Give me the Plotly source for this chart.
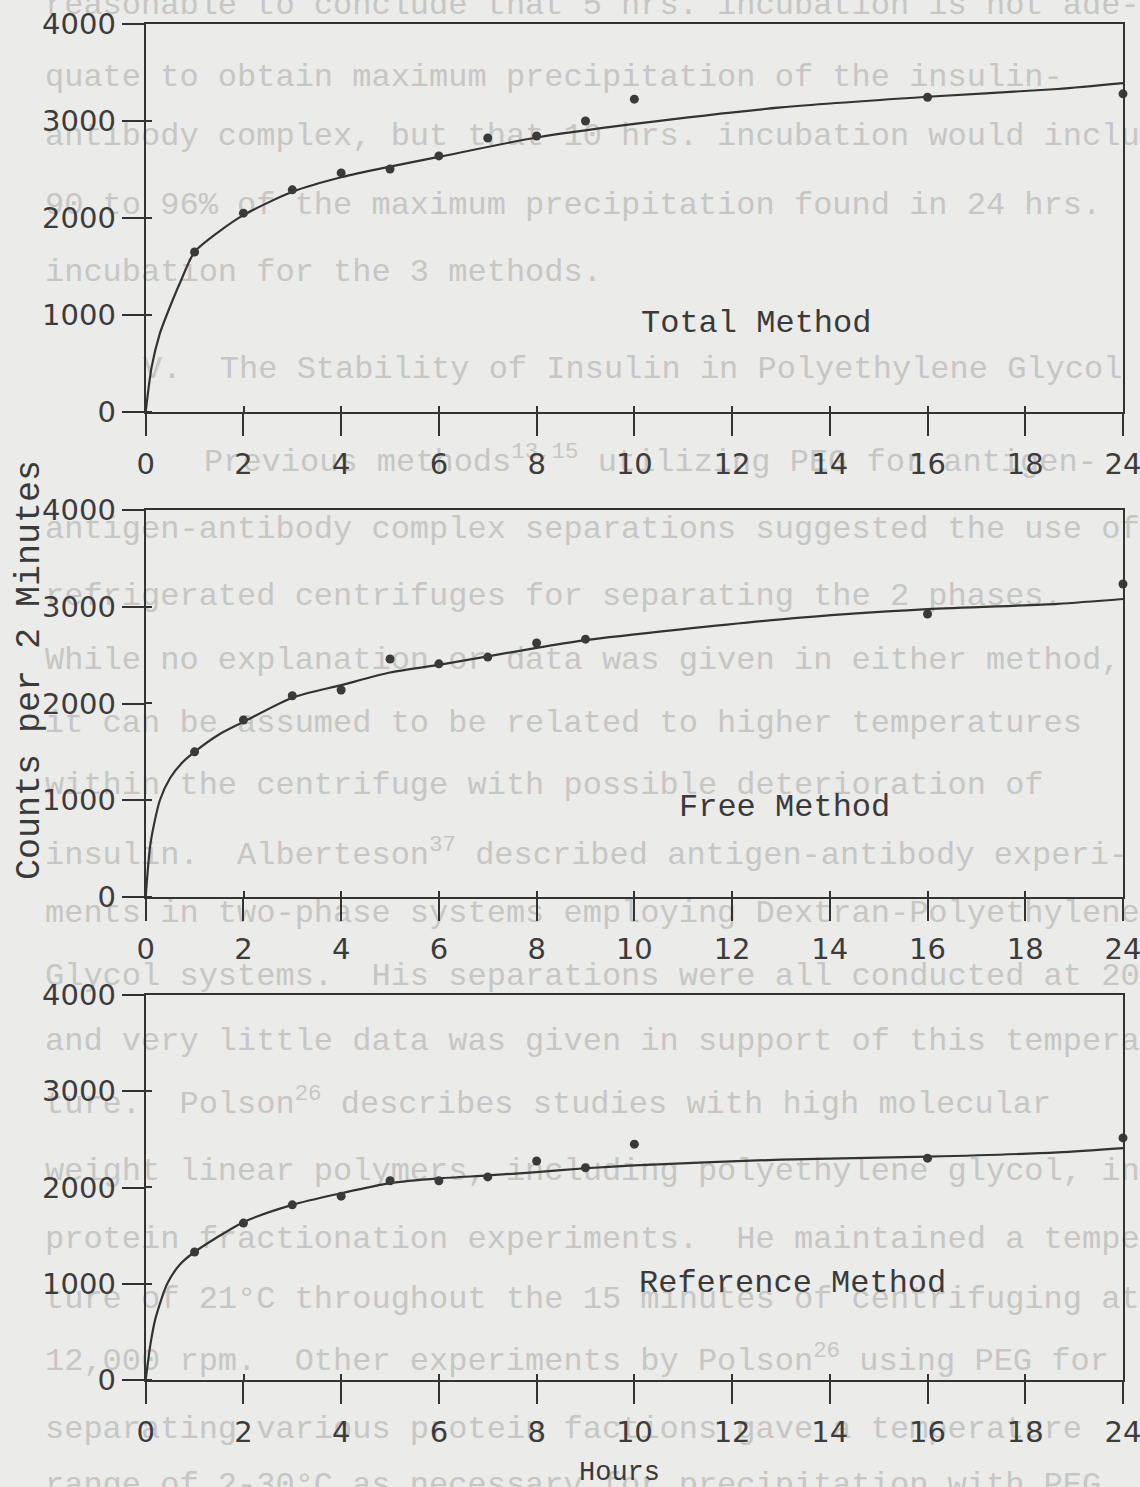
import plotly.graph_objects as go

# ---------------- data ----------------
tick_hours = [0, 2, 4, 6, 8, 10, 12, 14, 16, 18, 24]
tick_labels = ["0", "2", "4", "6", "8", "10", "12", "14", "16", "18", "24"]
y_ticks = [0, 1000, 2000, 3000, 4000]

total_hours = [1, 2, 3, 4, 5, 6, 7, 8, 9, 10, 16, 24]
total_counts = [1650, 2050, 2290, 2465, 2505, 2640, 2825, 2845, 3000, 3225, 3245, 3280]
total_fit_hours = [0, 0.12, 0.29, 0.43, 0.7, 1, 1.5, 2, 3, 4, 5, 6, 8, 10, 13, 16, 20, 24]
total_fit = [0, 460, 810, 1000, 1330, 1650, 1860, 2030, 2270, 2420, 2530, 2630, 2830, 2970, 3140, 3250, 3330, 3390]

free_hours = [1, 2, 3, 4, 5, 6, 7, 8, 9, 16, 24]
free_counts = [1500, 1830, 2080, 2140, 2460, 2410, 2480, 2625, 2665, 2925, 3235]
free_fit_hours = [0, 0.1, 0.29, 0.5, 0.75, 1, 1.5, 2, 3, 4, 5, 6, 8, 9, 13, 16, 20, 24]
free_fit = [0, 560, 1000, 1230, 1390, 1500, 1680, 1810, 2060, 2190, 2320, 2400, 2575, 2655, 2870, 2975, 3030, 3080]

ref_hours = [1, 2, 3, 4, 5, 6, 7, 8, 9, 10, 16, 24]
ref_counts = [1330, 1630, 1820, 1910, 2070, 2070, 2110, 2275, 2205, 2450, 2305, 2515]
ref_fit_hours = [0, 0.1, 0.2, 0.44, 0.7, 1, 2, 3, 4, 5, 6, 7, 8, 9, 10, 13, 16, 20, 24]
ref_fit = [0, 380, 640, 1000, 1200, 1330, 1640, 1820, 1940, 2045, 2095, 2125, 2160, 2200, 2230, 2290, 2320, 2365, 2410]

panel_names = ["Total Method", "Free Method", "Reference Method"]
y_title = "Counts per 2 Minutes"
x_title = "Hours"

# faint show-through text of the typed page behind the chart
ghost_lines = [
    "reasonable to conclude that 5 hrs. incubation is not ade-",
    "quate to obtain maximum precipitation of the insulin-",
    "antibody complex, but that 10 hrs. incubation would include",
    "90 to 96% of the maximum precipitation found in 24 hrs.",
    "incubation for the 3 methods.",
    "V.  The Stability of Insulin in Polyethylene Glycol",
    "Previous methods<sup>13,15</sup> utilizing PEG for antigen-",
    "antigen-antibody complex separations suggested the use of",
    "refrigerated centrifuges for separating the 2 phases.",
    "While no explanation or data was given in either method,",
    "it can be assumed to be related to higher temperatures",
    "within the centrifuge with possible deterioration of",
    "insulin.  Alberteson<sup>37</sup> described antigen-antibody experi-",
    "ments in two-phase systems employing Dextran-Polyethylene",
    "Glycol systems.  His separations were all conducted at 20°C",
    "and very little data was given in support of this tempera-",
    "ture.  Polson<sup>26</sup> describes studies with high molecular",
    "weight linear polymers, including polyethylene glycol, in",
    "protein fractionation experiments.  He maintained a tempera-",
    "ture of 21°C throughout the 15 minutes of centrifuging at",
    "12,000 rpm.  Other experiments by Polson<sup>26</sup> using PEG for",
    "separating various protein factions gave a temperature",
    "range of 2-30°C as necessary for precipitation with PEG.",
]
ghost_x = [45, 45, 45, 45, 45, 143, 204, 45, 45, 45, 45, 45, 45, 45, 45, 45, 45, 45, 45, 45, 45, 45, 45]
ghost_y = [6, 78, 137, 206, 273, 370, 463, 530, 597, 661, 724, 786, 856, 914, 977, 1042, 1105, 1172, 1240, 1300, 1362, 1430, 1486]

# ---------------- helpers ----------------
W, H = 1140, 1487


def xpos(h):
    # axis is evenly spaced through 18 h, then 18 -> 24 is squeezed into one step
    return h if h <= 18 else 18 + (h - 18) / 3.0


def px_dom(a, b, total):
    return [a / total, b / total]


def ypx_dom(top, bottom):
    return [1 - bottom / H, 1 - top / H]


BG = "#ebebe9"
INK = "#333333"
GHOST = "#c6c6c4"

fig = go.Figure()

# background page text (subplot x/y spans the whole page in pixels)
fig.add_trace(go.Scatter(
    x=ghost_x, y=ghost_y, text=ghost_lines, mode="text",
    textposition="middle right",
    textfont=dict(family="Liberation Mono", size=32, color=GHOST),
    xaxis="x", yaxis="y", hoverinfo="skip", cliponaxis=False,
))

panels = [
    (total_hours, total_counts, total_fit_hours, total_fit, "x2", "y2", (24, 412)),
    (free_hours, free_counts, free_fit_hours, free_fit, "x3", "y3", (510, 897)),
    (ref_hours, ref_counts, ref_fit_hours, ref_fit, "x4", "y4", (995, 1380)),
]

for hrs, cnt, fh, fv, xa, ya, _ in panels:
    fig.add_trace(go.Scatter(
        x=[xpos(h) for h in fh], y=fv, mode="lines",
        line=dict(color=INK, width=2.2, shape="spline", smoothing=0.7),
        xaxis=xa, yaxis=ya, cliponaxis=False, hoverinfo="skip",
    ))
    fig.add_trace(go.Scatter(
        x=[xpos(h) for h in hrs], y=cnt, mode="markers",
        marker=dict(color="#3a3a3a", size=9),
        xaxis=xa, yaxis=ya, cliponaxis=False, hoverinfo="skip",
    ))

layout = dict(
    width=W, height=H, autosize=False,
    margin=dict(l=0, r=0, t=0, b=0, pad=0, autoexpand=False),
    paper_bgcolor=BG, plot_bgcolor="rgba(0,0,0,0)",
    showlegend=False,
    xaxis=dict(domain=[0, 1], range=[0, W], visible=False, fixedrange=True),
    yaxis=dict(domain=[0, 1], range=[H, 0], visible=False, fixedrange=True),
)

xdom = px_dom(145.7, 1123, W)
tick_pos = [xpos(h) for h in tick_hours]
tickfont = dict(family="DejaVu Sans", size=29, color="#3c3c3c")

# the ticks in the drawing cross the axis: a short inner stub as minor ticks
x_minor = dict(tickmode="array", tickvals=[p + 0.002 for p in tick_pos],
               ticks="inside", ticklen=6, tickwidth=2, tickcolor=INK, showgrid=False)
y_minor = dict(tickmode="array", tickvals=[v + 0.4 for v in y_ticks[:-1]],
               ticks="inside", ticklen=6, tickwidth=2, tickcolor=INK, showgrid=False)

for i, (_, _, _, _, xa, ya, (top, bottom)) in enumerate(panels):
    xk = "xaxis" + xa[1:]
    yk = "yaxis" + ya[1:]
    layout[xk] = dict(
        domain=xdom, range=[0, xpos(24)], anchor=ya,
        tickmode="array", tickvals=tick_pos, ticktext=tick_labels,
        ticks="outside", ticklen=22, tickwidth=2, tickcolor=INK,
        showline=True, linewidth=2, linecolor=INK, mirror=True,
        showgrid=False, zeroline=False, tickfont=tickfont,
        ticklabelstandoff=3, ticklabeloverflow="allow", automargin=False,
        minor=x_minor,
    )
    layout[yk] = dict(
        domain=ypx_dom(top, bottom), range=[0, 4000], anchor=xa,
        tickmode="array", tickvals=y_ticks,
        ticks="outside", ticklen=22, tickwidth=2, tickcolor=INK,
        showline=True, linewidth=2, linecolor=INK, mirror=True,
        showgrid=False, zeroline=False, tickfont=tickfont,
        ticklabeloverflow="allow", automargin=False,
        minor=y_minor,
    )

fig.update_layout(**layout)

label_pos = [(756, 323), (784, 807), (792, 1283)]
annotations = []
for name, (lx, ly) in zip(panel_names, label_pos):
    annotations.append(dict(
        text=name, x=lx / W, y=1 - ly / H, xref="paper", yref="paper",
        showarrow=False, xanchor="center", yanchor="middle",
        font=dict(family="Liberation Mono", size=32, color="#3a3a3a"),
    ))
annotations.append(dict(
    text=y_title, x=30 / W, y=1 - 670 / H, xref="paper", yref="paper",
    showarrow=False, textangle=-90, xanchor="center", yanchor="middle",
    font=dict(family="Liberation Mono", size=35, color="#3a3a3a"),
))
annotations.append(dict(
    text=x_title, x=619 / W, y=1 - 1473 / H, xref="paper", yref="paper",
    showarrow=False, xanchor="center", yanchor="middle",
    font=dict(family="Liberation Mono", size=27, color="#3a3a3a"),
))
fig.update_layout(annotations=annotations)

fig.write_html("out.html")
